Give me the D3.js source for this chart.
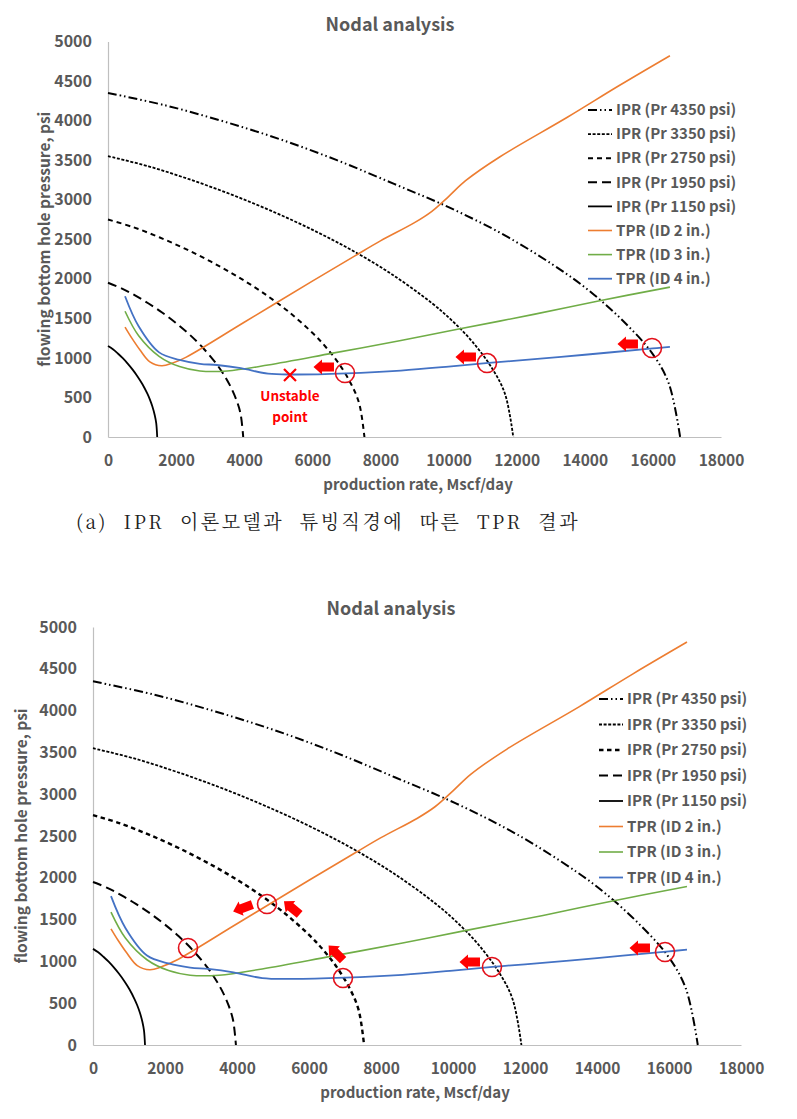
<!DOCTYPE html>
<html><head><meta charset="utf-8">
<script src="https://cdn.jsdelivr.net/npm/d3@7"></script>
<style>
body{margin:0;background:#fff;}
svg{display:block;}
</style></head>
<body>
<svg id="chart" width="797" height="1119"></svg>
<script>
// ---------- data (rate Mscf/day, pressure psi) ----------
const xTicks = [0,2000,4000,6000,8000,10000,12000,14000,16000,18000];
const yTicks = [0,500,1000,1500,2000,2500,3000,3500,4000,4500,5000];
const seriesNames = ["IPR (Pr 4350 psi)","IPR (Pr 3350 psi)","IPR (Pr 2750 psi)","IPR (Pr 1950 psi)","IPR (Pr 1150 psi)","TPR (ID 2 in.)","TPR (ID 3 in.)","TPR (ID 4 in.)"];

const ipr4350 = [[0,4350],[1680,4193],[3360,3994],[5040,3766],[6720,3500],[8400,3200],[10080,2890],[11760,2523],[13440,2069],[14280,1796],[15120,1469],[15960,1070],[16464,680],[16800,0]];
const ipr3350 = [[0,3550],[1190,3422],[2380,3259],[3570,3074],[4760,2865],[5950,2631],[7140,2366],[8330,2059],[9520,1689],[10115,1466],[10710,1199],[11305,850],[11662,539],[11900,0]];
const ipr2750 = [[0,2750],[753,2651],[1506,2525],[2259,2381],[3012,2219],[3765,2038],[4518,1833],[5271,1595],[6024,1308],[6400,1135],[6777,929],[7153,658],[7380,417],[7530,0]];
const ipr1950 = [[0,1950],[397,1880],[794,1790],[1191,1688],[1588,1574],[1985,1445],[2382,1300],[2779,1131],[3176,928],[3375,805],[3573,659],[3772,467],[3891,296],[3970,0]];
const ipr1150 = [[0,1150],[145,1109],[289,1056],[434,996],[578,928],[723,852],[867,766],[1012,667],[1156,547],[1228,475],[1301,388],[1373,275],[1416,174],[1445,0]];

const tpr2 = [[500,1390],[700,1250],[940,1100],[1230,950],[1580,900],[1900,935],[2300,1010],[4000,1450],[6000,1970],[7250,2290],[8000,2480],[9000,2710],[9500,2850],[10000,3040],[10500,3240],[11500,3540],[13500,4045],[15000,4440],[16500,4820]];
const tpr3 = [[500,1590],[900,1280],[1500,1020],[2100,890],[2700,835],[3500,835],[4700,910],[6600,1060],[8600,1220],[10300,1365],[12500,1550],[14400,1720],[16500,1895]];
const tpr4 = [[500,1780],[900,1400],[1500,1070],[2100,975],[2700,925],[3200,910],[3900,870],[4700,800],[5500,790],[7000,805],[8600,840],[10000,890],[11100,935],[12000,965],[14000,1040],[16000,1120],[16500,1140]];

const seriesData = [ipr4350, ipr3350, ipr2750, ipr1950, ipr1150, tpr2, tpr3, tpr4];

// annotations
const topCircles = [[6959,809],[11129,935],[15974,1125]];
const topArrows = [[6342,885,0],[10511,1011,0],[15268,1176,0]];
const topUnstable = [5344,784];
const botCircles = [[2639,1160],[4833,1686],[6944,801],[11083,933],[15889,1112]];
const botArrows = [[4167,1639,-20],[5528,1639,40],[6750,1100,45],[10472,993,0],[15194,1160,0]];

// ---------- styles ----------
const baseStyles = [
  {color:"#000", w:2, dash:"9,3,1.5,3,1.5,3"},
  {color:"#000", w:1.8, dash:"3,1.6"},
  {color:"#000", w:2, dash:"5,4"},
  {color:"#000", w:2, dash:"9,5"},
  {color:"#000", w:1.8, dash:null},
  {color:"#ED7D31", w:1.6, dash:null},
  {color:"#70AD47", w:1.6, dash:null},
  {color:"#4472C4", w:1.8, dash:null}
];
const FONT = "'Noto Sans CJK KR','Open Sans',sans-serif";
const GRAY = "#595959";

const svg = d3.select("#chart");

function panel(cfg){
  const styles = baseStyles.map((s,i)=>Object.assign({}, s, (cfg.override||{})[i]||{}));
  const x = d3.scaleLinear().domain([0,18000]).range([cfg.x0,cfg.x1]);
  const y = d3.scaleLinear().domain([0,5000]).range([cfg.y0,cfg.y1]);
  const g = svg.append("g");

  const ya = g.append("g").attr("transform",`translate(${cfg.x0},0)`)
    .call(d3.axisLeft(y).tickValues(yTicks).tickSize(0).tickPadding(cfg.yPad).tickFormat(d3.format("d")));
  const xa = g.append("g").attr("transform",`translate(0,${cfg.y0})`)
    .call(d3.axisBottom(x).tickValues(xTicks).tickSize(0).tickPadding(cfg.xPad).tickFormat(d3.format("d")));
  [ya,xa].forEach(a=>{
    a.select(".domain").attr("stroke","#bfbfbf").attr("stroke-width",1.2);
    a.selectAll("text").attr("fill",GRAY).attr("font-family",FONT).attr("font-weight","bold").attr("font-size",16);
  });
  xa.selectAll("text").attr("font-size",15.5);

  g.append("text").attr("x",cfg.titleX).attr("y",cfg.titleY).attr("text-anchor","middle")
    .attr("font-family",FONT).attr("font-weight","bold").attr("font-size",18).attr("fill",GRAY).text("Nodal analysis");
  g.append("text").attr("x",cfg.xtX).attr("y",cfg.xtY).attr("text-anchor","middle")
    .attr("font-family",FONT).attr("font-weight","bold").attr("font-size",15).attr("fill",GRAY).text("production rate, Mscf/day");
  g.append("text").attr("transform",`translate(${cfg.ytX},${(cfg.y0+cfg.y1)/2}) rotate(-90)`).attr("text-anchor","middle")
    .attr("font-family",FONT).attr("font-weight","bold").attr("font-size",15.5).attr("fill",GRAY).text("flowing bottom hole pressure, psi");

  const line = d3.line().x(d=>x(d[0])).y(d=>y(d[1])).curve(d3.curveCatmullRom.alpha(0.5));
  seriesData.forEach((s,i)=>{
    const st = styles[i];
    const p = g.append("path").attr("d",line(s)).attr("fill","none").attr("stroke",st.color)
      .attr("stroke-width",st.w);
    if(st.dash) p.attr("stroke-dasharray",st.dash);
  });

  seriesNames.forEach((n,i)=>{
    const st = styles[i];
    const yy = cfg.legY + i*cfg.legStep;
    const l = g.append("line").attr("x1",cfg.legX).attr("x2",cfg.legX+24).attr("y1",yy).attr("y2",yy)
      .attr("stroke",st.color).attr("stroke-width",st.w);
    if(st.dash) l.attr("stroke-dasharray",st.dash);
    g.append("text").attr("x",cfg.legX+28).attr("y",yy).attr("dy","0.35em")
      .attr("font-family",FONT).attr("font-weight","bold").attr("font-size",15).attr("fill",GRAY).text(n);
  });

  cfg.circles.forEach(c=>{
    g.append("circle").attr("cx",x(c[0])).attr("cy",y(c[1])).attr("r",9.5)
      .attr("fill","none").attr("stroke","#E3101A").attr("stroke-width",1.6);
  });
  const arrowPath = "M-10.5,0 L-2,-7.5 L-2,-4.5 L10,-4.5 L10,4.5 L-2,4.5 L-2,7.5 Z";
  cfg.arrows.forEach(a=>{
    g.append("path").attr("d",arrowPath).attr("fill","#FF0000")
      .attr("transform",`translate(${x(a[0])},${y(a[1])}) rotate(${a[2]})`);
  });
  return {x,y,g};
}

const topPanel = panel({x0:108,x1:721,y0:437,y1:41.5,yPad:16,xPad:18,titleX:390,titleY:31,
  xtX:418,xtY:490,ytX:50,legX:588,legY:110,legStep:24.1,circles:topCircles,arrows:topArrows});

{
  const cx = topPanel.x(topUnstable[0]), cy = topPanel.y(topUnstable[1]);
  topPanel.g.append("path").attr("d",`M${cx-6},${cy-6}L${cx+6},${cy+6}M${cx+6},${cy-6}L${cx-6},${cy+6}`)
    .attr("stroke","#FF0000").attr("stroke-width",2.2).attr("fill","none");
  topPanel.g.append("text").attr("x",cx).attr("y",cy+26).attr("text-anchor","middle")
    .attr("font-family",FONT).attr("font-weight","bold").attr("font-size",13.5).attr("fill","#FF0000").text("Unstable");
  topPanel.g.append("text").attr("x",cx).attr("y",cy+47).attr("text-anchor","middle")
    .attr("font-family",FONT).attr("font-weight","bold").attr("font-size",13.5).attr("fill","#FF0000").text("point");
}

// caption: letter spacing plus word spacing to match its width
{
  const cap = svg.append("text").attr("x",76).attr("y",529)
    .attr("font-family","'Noto Serif CJK KR','DejaVu Serif',serif")
    .attr("font-size",19).attr("fill","#222").attr("letter-spacing",2.5)
    .text("(a) IPR 이론모델과 튜빙직경에 따른 TPR 결과");
  const len = cap.node().getComputedTextLength();
  const ws = Math.max(0,(504-len)/6);
  cap.attr("word-spacing",ws);
}

panel({x0:93,x1:741,y0:1045,y1:627,yPad:16,xPad:18,titleX:391,titleY:615,
  xtX:415,xtY:1098,ytX:27,legX:599,legY:699,legStep:25.5,circles:botCircles,arrows:botArrows,
  override:{2:{w:2.4,dash:"4.5,3.5"}}});
</script>
</body></html>
